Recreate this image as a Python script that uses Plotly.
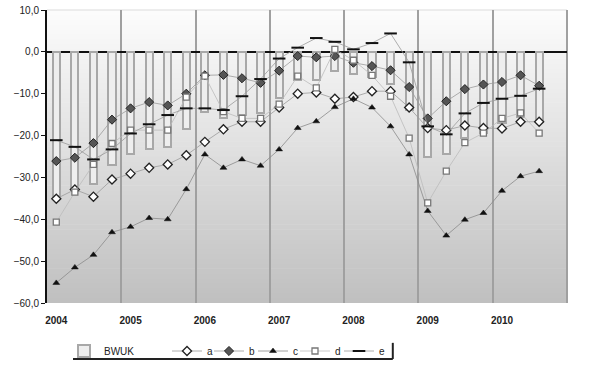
import plotly.graph_objects as go

years = ["2004", "2005", "2006", "2007", "2008", "2009", "2010"]
quarters = [f"{y} Q{q}" for y in years for q in range(1, 5)][:27]

bwuk = [-34.5, -32.5, -31.5, -27.1, -24.5, -23.3, -22.7, -18.4, -14.4, -15.9, -15.1, -14.7, -11.1, -6.8,
        -6.8, -4.5, -5.2, -6.0, -7.6, -14.0, -25.1, -24.5, -20.5, -19.5, -17.1, -15.5, -16.7]
a = [-35.1, -32.9, -34.6, -30.5, -29.1, -27.7, -26.9, -24.7, -21.5, -18.5, -16.7, -16.7, -13.3, -10.0,
     -9.7, -11.2, -10.8, -9.4, -9.4, -13.3, -18.2, -18.7, -17.6, -18.2, -18.3, -16.7, -16.7]
b = [-26.1, -25.3, -21.8, -16.2, -13.5, -12.0, -12.8, -10.0, -5.6, -5.5, -6.3, -7.4, -4.5, -1.0,
     -1.3, -1.0, -2.6, -3.4, -4.4, -8.4, -15.9, -11.8, -8.9, -7.8, -7.2, -5.6, -8.1]
c = [-55.2, -51.5, -48.5, -43.1, -41.8, -39.7, -40.0, -32.8, -24.5, -27.7, -25.7, -27.2, -23.3, -18.2,
     -16.6, -13.2, -11.2, -13.3, -17.8, -24.5, -38.0, -43.9, -40.1, -38.5, -33.2, -29.7, -28.5]
d = [-40.7, -33.5, -26.9, -21.9, -18.7, -18.7, -18.7, -10.8, -5.8, -14.3, -15.9, -15.9, -12.5, -5.8,
     -8.6, 0.6, -2.0, -5.6, -10.6, -20.6, -36.1, -28.5, -21.7, -19.4, -15.9, -14.6, -19.4]
e = [-21.1, -22.7, -25.7, -23.3, -19.5, -17.3, -15.1, -13.5, -13.5, -13.9, -10.6, -6.5, -1.6, 1.0,
     3.3, 2.4, 0.6, 2.1, 4.4, -2.5, -17.8, -19.7, -14.7, -12.2, -11.2, -10.5, -8.8]

x = list(range(len(quarters)))
year_ticks = [quarters.index(f"{y} Q1") for y in years]
n_slots = len(years) * 4

FONT = "Liberation Sans, Arial, sans-serif"
fig = go.Figure()

fig.add_trace(go.Bar(
    x=x, y=bwuk, name="BWUK", width=0.38,
    marker=dict(color="#eeeeee", line=dict(color="#a8a8a8", width=2)),
    legend="legend",
))

def line_trace(vals, name, symbol, size, fill, lcol, lw, legend, linecol="#9a9a9a"):
    return go.Scatter(
        x=x, y=vals, name=name, mode="lines+markers", legend=legend,
        line=dict(color=linecol, width=0.8),
        marker=dict(symbol=symbol, size=size, color=fill, line=dict(color=lcol, width=lw)),
    )

fig.add_trace(line_trace(a, "a", "diamond", 7, "white", "#222222", 1.3, "legend2"))
fig.add_trace(line_trace(b, "b", "diamond", 7, "#555555", "#222222", 1.0, "legend3"))
fig.add_trace(line_trace(c, "c", "triangle-up", 6, "#111111", "#111111", 0.5, "legend4", "#8a8a8a"))
fig.add_trace(line_trace(d, "d", "square", 6, "white", "#777777", 1.3, "legend5", "#bbbbbb"))
fig.add_trace(line_trace(e, "e", "line-ew", 9, "#111111", "#111111", 2, "legend6"))

# gradient background
shapes = []
N = 60
top = (253, 253, 253)
bot = (191, 191, 191)
for i in range(N):
    t = (i + 0.5) / N
    col = tuple(int(round(bot[k] + (top[k] - bot[k]) * t)) for k in range(3))
    shapes.append(dict(type="rect", xref="x domain", yref="y domain",
                       x0=0, x1=1, y0=i / N, y1=(i + 1) / N + 0.002,
                       fillcolor="rgb(%d,%d,%d)" % col, line=dict(width=0), layer="below"))
shapes.append(dict(type="line", xref="x domain", yref="y domain", x0=0, x1=1, y0=1, y1=1,
                   line=dict(color="#dcdcdc", width=1), layer="below"))
shapes.append(dict(type="line", xref="x domain", yref="y domain", x0=1, x1=1, y0=0, y1=1,
                   line=dict(color="#a0a0a0", width=2), layer="below"))
# legend shadow frame
shapes.append(dict(type="line", xref="paper", yref="paper", x0=0.05, x1=0.665, y0=-0.191, y1=-0.191,
                   line=dict(color="#222222", width=2)))
shapes.append(dict(type="line", xref="paper", yref="paper", x0=0.665, x1=0.665, y0=-0.136, y1=-0.191,
                   line=dict(color="#222222", width=2)))

def px2paper(px):
    return (px - 47) / 520.0

leg_common = dict(orientation="h", yref="container", yanchor="middle", y=1 - 351 / 365.0,
                  xanchor="left",
                  bgcolor="rgba(0,0,0,0)", font=dict(family=FONT, size=10, color="#222222"),
                  itemclick=False)

layout_legends = {}
for key, px in [("legend", 64), ("legend2", 167), ("legend3", 209), ("legend4", 253),
                ("legend5", 295), ("legend6", 339)]:
    layout_legends[key] = dict(leg_common, x=px2paper(px))

fig.update_layout(
    width=600, height=365,
    margin=dict(l=47, r=33, t=10, b=62, autoexpand=False),
    paper_bgcolor="white", plot_bgcolor="white",
    separators=",.",
    showlegend=True,
    shapes=shapes,
    bargap=0,
    font=dict(family=FONT, size=10, color="#222222"),
    xaxis=dict(
        automargin=False,
        range=[-0.5, n_slots - 0.5], tickmode="array", tickvals=year_ticks,
        ticktext=["<b>%s</b>" % y for y in years],
        showgrid=False, zeroline=False, showline=False,
        ticks="outside", ticklen=8, tickcolor="rgba(0,0,0,0)",
        tickfont=dict(family=FONT, size=10, color="#222222"),
        minor=dict(tickmode="linear", tick0=-0.5, dtick=4, showgrid=True,
                   gridcolor="#a0a0a0", gridwidth=2, ticks=""),
    ),
    yaxis=dict(
        automargin=False,
        range=[-60, 10], dtick=10, tickformat=".1f",
        showgrid=False, zeroline=True, zerolinecolor="#111111", zerolinewidth=2,
        showline=True, linecolor="#111111", linewidth=2,
        ticks="outside", ticklen=4, tickcolor="#111111",
        tickfont=dict(family=FONT, size=10, color="#222222"),
    ),
    **layout_legends,
)

fig.write_html("out.html", config={"displayModeBar": False},
               post_script="document.body.style.margin='0';document.body.style.overflow='hidden';")
